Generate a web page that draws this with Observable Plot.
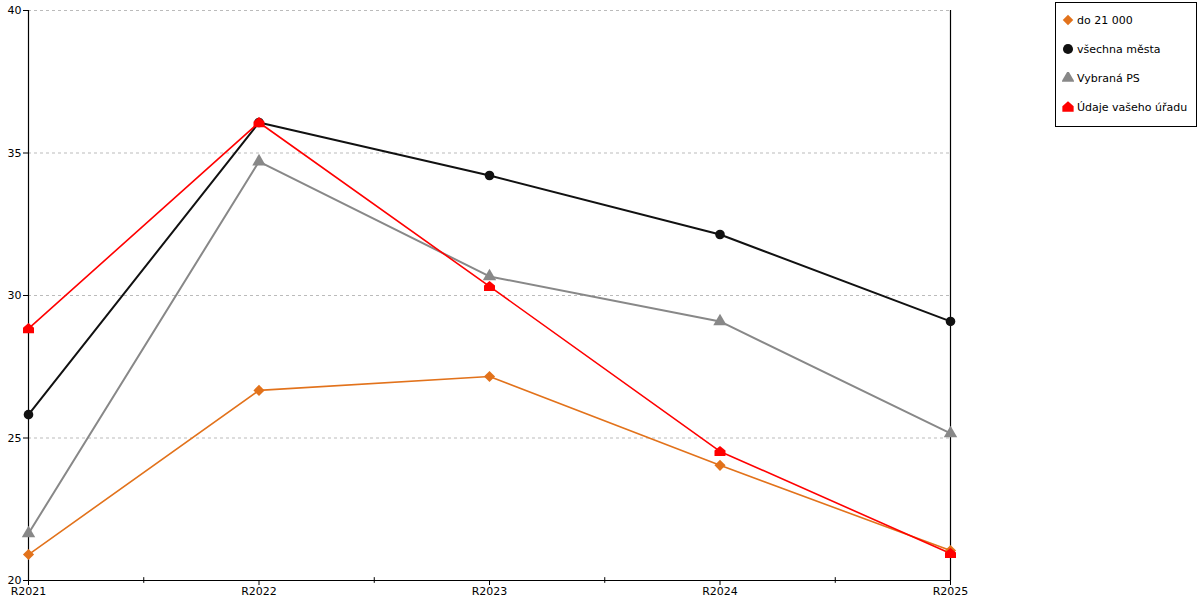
<!DOCTYPE html>
<html>
<head>
<meta charset="utf-8">
<script src="https://cdn.jsdelivr.net/npm/d3@7"></script>
<script src="https://cdn.jsdelivr.net/npm/@observablehq/plot@0.6"></script>
<style>
  body { margin: 0; background: #fff; font-family: "DejaVu Sans", sans-serif; }
  #wrap { position: relative; width: 1200px; height: 600px; }
  #legend { position: absolute; left: 1055px; top: 2px; width: 140px; height: 123px; border: 1px solid #000; background: #fff; font-size: 11px; }
  .item { position: absolute; left: 6px; height: 16px; display: flex; align-items: center; white-space: nowrap; }
  .item svg { margin-right: 3px; flex: none; }
</style>
</head>
<body>
<div id="wrap">
  <div id="chart"></div>
  <div id="legend"></div>
</div>
<script>
const categories = ["R2021", "R2022", "R2023", "R2024", "R2025"];
const seriesNames = ["do 21 000", "všechna města", "Vybraná PS", "Údaje vašeho úřadu"];
const do21000 = [20.91, 26.67, 27.16, 24.04, 21.05];
const vsechnaMesta = [25.82, 36.07, 34.21, 32.14, 29.09];
const vybranaPS = [21.65, 34.70, 30.67, 29.09, 25.16];
const udajeUradu = [28.84, 36.07, 30.32, 24.53, 20.95];
const yTicks = [20, 25, 30, 35, 40];

const colors = ["#e2721b", "#111111", "#888888", "#ff0000"];

const house = {
  draw(context, size) {
    const s = Math.sqrt(size / Math.PI);
    context.moveTo(-s, s * 0.85);
    context.lineTo(s, s * 0.85);
    context.lineTo(s, -0.15 * s);
    context.lineTo(0, -s);
    context.lineTo(-s, -0.15 * s);
    context.closePath();
  }
};

function rows(values) { return values.map((v, i) => ({i, v})); }

const specs = [
  {vals: vsechnaMesta, color: colors[1], sw: 2, symbol: "circle", r: 4.8},
  {vals: vybranaPS, color: colors[2], sw: 2, symbol: "triangle", r: 5},
  {vals: do21000, color: colors[0], sw: 1.6, symbol: "diamond2", r: 5},
  {vals: udajeUradu, color: colors[3], sw: 1.6, symbol: house, r: 5.5}
];

const marks = [
  Plot.gridY(yTicks.slice(1), {stroke: "#bbb", strokeOpacity: 1, strokeDasharray: "3,3"}),
  Plot.ruleX([0, 4], {stroke: "#000", strokeWidth: 1.2}),
  Plot.ruleY([20], {stroke: "#000", strokeWidth: 1.2}),
  Plot.axisY({ticks: yTicks, tickSize: 5, tickPadding: 2, fontSize: 11, fill: "#000", label: null}),
  Plot.axisX({ticks: [0, 1, 2, 3, 4], tickFormat: i => categories[i], tickSize: 5, tickPadding: 2, fontSize: 11, fill: "#000", label: null}),
  Plot.ruleX([0.5, 1.5, 2.5, 3.5], {x: d => d, y1: 19.9, y2: 20.1, stroke: "#000"})
];
for (const s of specs) {
  const data = rows(s.vals);
  marks.push(Plot.line(data, {x: "i", y: "v", stroke: s.color, strokeWidth: s.sw}));
}
for (const s of specs) {
  const data = rows(s.vals);
  marks.push(Plot.dot(data, {x: "i", y: "v", symbol: () => s.symbol, fill: s.color, stroke: "none", r: s.r}));
}

const chart = Plot.plot({
  width: 1200,
  height: 600,
  marginLeft: 28,
  marginRight: 250,
  marginTop: 10,
  marginBottom: 20,
  style: {fontFamily: "DejaVu Sans, sans-serif", fontSize: "11px", color: "#000"},
  x: {type: "linear", domain: [0, 4], axis: null, label: null},
  y: {domain: [20, 40], axis: null, label: null},
  symbol: {type: "identity"},
  marks
});
document.getElementById("chart").appendChild(chart);

// legend
const legend = document.getElementById("legend");
const legendOrder = [
  {name: seriesNames[0], color: colors[0], symbol: d3.symbolDiamond2 || d3.symbolSquare, size: 70, rot: d3.symbolDiamond2 ? 0 : 45},
  {name: seriesNames[1], color: colors[1], symbol: d3.symbolCircle, size: 80, rot: 0},
  {name: seriesNames[2], color: colors[2], symbol: d3.symbolTriangle, size: 75, rot: 0},
  {name: seriesNames[3], color: colors[3], symbol: house, size: 100, rot: 0}
];
legendOrder.forEach((d, k) => {
  const div = document.createElement("div");
  div.className = "item";
  div.style.top = (9 + k * 29) + "px";
  const path = d3.symbol(d.symbol, d.size)();
  div.innerHTML = `<svg width="12" height="12" viewBox="-6 -6 12 12"><path d="${path}" fill="${d.color}" transform="rotate(${d.rot})"></path></svg><span>${d.name}</span>`;
  legend.appendChild(div);
});
</script>
</body>
</html>
